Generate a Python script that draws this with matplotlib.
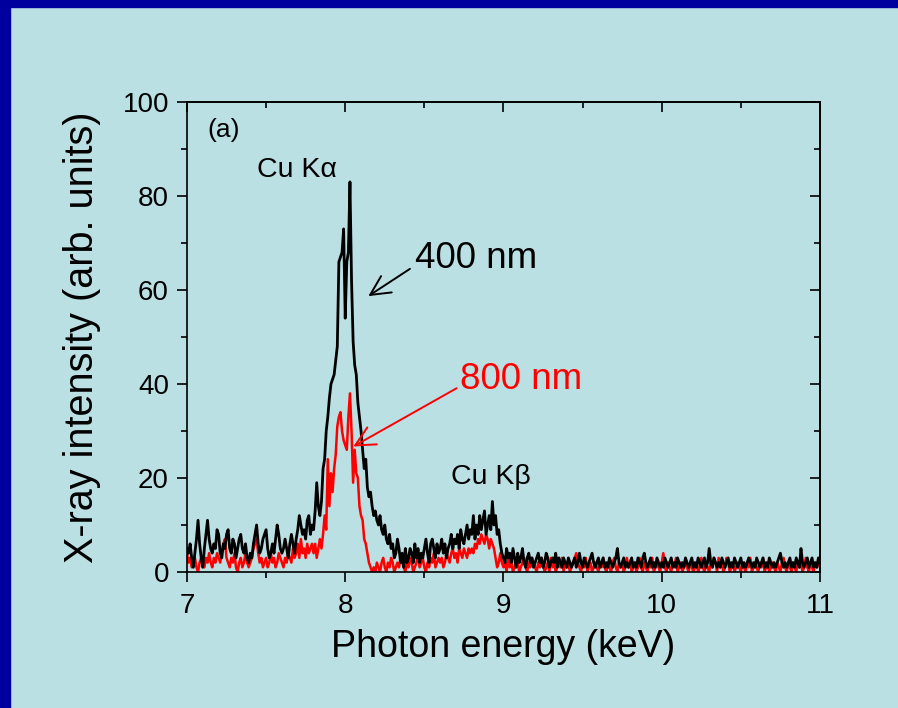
import numpy as np
import matplotlib
matplotlib.use("Agg")
import matplotlib.pyplot as plt
from matplotlib.patches import Rectangle

plt.rcParams['font.family'] = ['Liberation Sans', 'DejaVu Sans']

# spectra, channels every 0.01 keV starting at 7.00 keV
black_400nm = [
    5, 4, 6, 3, 1, 4, 7, 11, 6, 3, 1, 5, 8, 11, 7, 5, 4, 6, 5, 9,      # 7.00
    8, 4, 3, 6, 5, 8, 9, 5, 4, 7, 6, 3, 5, 7, 8, 5, 4, 6, 3, 2,        # 7.20
    4, 3, 6, 8, 10, 6, 4, 5, 7, 8, 9, 5, 3, 4, 6, 4, 7, 10, 8, 5,      # 7.40
    4, 5, 7, 5, 3, 6, 8, 6, 4, 7, 9, 12, 10, 8, 9, 7, 11, 12, 8, 10,   # 7.60
    9, 13, 19, 14, 12, 15, 22, 24, 30, 33, 37, 40, 41, 42, 45, 48, 66, 67, 68, 73,  # 7.80
    54, 66, 68, 83, 62, 49, 44, 42, 36, 33, 30, 26, 22, 24, 18, 16, 17, 14, 12, 13,  # 8.00
    11, 10, 12, 9, 8, 10, 7, 6, 8, 5, 6, 3, 4, 7, 5, 2, 4, 1, 5, 2,    # 8.20
    3, 5, 4, 2, 6, 3, 5, 2, 4, 3, 5, 7, 4, 2, 6, 7, 5, 3, 6, 4,        # 8.40
    5, 7, 4, 6, 3, 5, 6, 8, 5, 7, 6, 8, 5, 9, 7, 6, 8, 10, 7, 9,       # 8.60
    8, 12, 7, 10, 8, 12, 9, 11, 13, 8, 10, 12, 9, 15, 10, 12, 8, 9, 6, 4,  # 8.80
    3, 2, 5, 3, 4, 2, 5, 3, 1, 4, 2, 3, 5, 2, 1, 3, 4, 2, 3, 1,        # 9.00
    2, 3, 4, 2, 3, 1, 2, 4, 3, 1, 2, 3, 2, 4, 1, 3, 2, 1, 3, 2,        # 9.20
    1, 3, 2, 1, 2, 3, 1, 2, 4, 2, 1, 3, 2, 1, 2, 3, 4, 2, 1, 2,        # 9.40
    3, 1, 2, 3, 1, 2, 1, 3, 2, 1, 2, 3, 5, 2, 1, 2, 3, 1, 2, 1,        # 9.60
    2, 3, 1, 2, 1, 3, 2, 1, 3, 4, 2, 1, 2, 3, 1, 2, 1, 3, 2, 1,        # 9.80
    2, 1, 3, 2, 1, 2, 3, 1, 2, 1, 3, 2, 1, 2, 1, 3, 2, 1, 2, 3,        # 10.00
    1, 2, 1, 3, 2, 1, 2, 3, 1, 2, 5, 2, 1, 3, 2, 1, 2, 1, 3, 2,        # 10.20
    1, 2, 3, 1, 2, 1, 3, 2, 1, 2, 3, 1, 2, 1, 2, 3, 2, 1, 2, 1,        # 10.40
    3, 2, 1, 2, 3, 1, 2, 1, 3, 2, 1, 2, 1, 2, 3, 4, 2, 1, 2, 1,        # 10.60
    2, 3, 1, 2, 1, 3, 2, 1, 5, 2, 1, 2, 3, 1, 2, 3, 1, 2, 1, 3,        # 10.80
    2]

red_800nm = [
    4, 2, 3, 1, 2, 3, 1, 0, 2, 3, 2, 1, 3, 2, 4, 2, 1, 3, 2, 4,        # 7.00
    3, 2, 4, 6, 7, 3, 2, 1, 3, 2, 4, 1, 0, 2, 3, 1, 2, 4, 2, 1,        # 7.20
    2, 3, 5, 6, 7, 4, 2, 3, 1, 2, 3, 1, 2, 4, 2, 3, 1, 2, 4, 3,        # 7.40
    2, 1, 3, 2, 4, 3, 2, 5, 3, 4, 6, 3, 7, 4, 5, 3, 6, 4, 5, 6,        # 7.60
    4, 6, 3, 5, 7, 5, 8, 12, 9, 24, 14, 21, 17, 22, 25, 31, 33, 34, 30, 28,  # 7.80
    27, 26, 33, 38, 30, 19, 26, 21, 20, 14, 12, 11, 7, 6, 4, 2, 1, 0, 1, 0,  # 8.00
    2, 1, 0, 2, 3, 1, 0, 2, 1, 3, 2, 0, 1, 2, 1, 3, 2, 1, 0, 2,        # 8.20
    1, 3, 2, 0, 1, 2, 4, 1, 2, 3, 1, 0, 2, 1, 3, 2, 4, 1, 2, 3,        # 8.40
    2, 3, 1, 2, 4, 3, 2, 4, 5, 3, 4, 2, 5, 4, 3, 5, 4, 3, 5, 4,        # 8.60
    5, 4, 6, 5, 7, 6, 8, 7, 6, 8, 7, 5, 7, 6, 5, 3, 1, 2, 4, 2,        # 8.80
    1, 2, 0, 3, 1, 2, 0, 1, 3, 2, 0, 1, 2, 3, 1, 0, 2, 1, 3, 2,        # 9.00
    1, 0, 2, 1, 3, 2, 0, 1, 2, 0, 3, 1, 2, 0, 1, 2, 1, 3, 0, 2,        # 9.20
    1, 2, 0, 1, 2, 3, 4, 2, 1, 0, 2, 1, 3, 0, 1, 2, 0, 1, 2, 1,        # 9.40
    0, 2, 1, 3, 1, 0, 2, 1, 0, 2, 3, 1, 0, 2, 1, 2, 0, 1, 3, 1,        # 9.60
    2, 0, 1, 2, 0, 1, 3, 1, 0, 2, 1, 0, 2, 1, 3, 0, 1, 2, 1, 0,        # 9.80
    2, 4, 1, 0, 2, 1, 0, 2, 1, 3, 0, 1, 2, 0, 1, 2, 1, 0, 2, 1,        # 10.00
    0, 1, 2, 0, 1, 3, 1, 0, 2, 1, 0, 2, 1, 3, 2, 0, 3, 1, 2, 0,        # 10.20
    1, 3, 2, 0, 1, 2, 0, 1, 2, 1, 0, 2, 1, 0, 2, 1, 3, 0, 1, 2,        # 10.40
    1, 0, 2, 1, 3, 0, 1, 2, 0, 1, 2, 1, 0, 2, 1, 0, 2, 3, 1, 0,        # 10.60
    2, 1, 0, 2, 1, 0, 2, 1, 2, 0, 1, 3, 1, 0, 2, 1, 0, 2, 1, 2,        # 10.80
    1]

e_start = 7.0
e_step = 0.01
xticks = [7, 8, 9, 10, 11]
yticks = [0, 20, 40, 60, 80, 100]

bg = '#bae0e4'
frame_blue = '#00009e'

fig = plt.figure(figsize=(8.98, 7.08), dpi=100, facecolor=bg)
ax = fig.add_axes([0.2082, 0.1921, 0.7049, 0.6638])
ax.set_facecolor(bg)

# dark blue frame on left and top edge
fig.patches.append(Rectangle((0, 0), 10 / 898, 1, transform=fig.transFigure,
                             color=frame_blue, zorder=0))
fig.patches.append(Rectangle((0, 1 - 7 / 708), 1, 7 / 708, transform=fig.transFigure,
                             color=frame_blue, zorder=0))

e_red = e_start + e_step * np.arange(len(red_800nm))
e_black = e_start + e_step * np.arange(len(black_400nm))
ax.plot(e_red, red_800nm, color='#ff0000', lw=1.8, zorder=2)
ax.plot(e_black, black_400nm, color='black', lw=2.0, zorder=3)

ax.set_xlim(7, 11)
ax.set_ylim(0, 100)
ax.set_xticks(xticks)
ax.set_yticks(yticks)
ax.set_xticks(np.arange(7.5, 11, 1.0), minor=True)
ax.set_yticks(np.arange(10, 100, 20), minor=True)

for sp in ax.spines.values():
    sp.set_linewidth(1.2)

ax.tick_params(axis='both', which='major', direction='out', length=7, width=1.2,
               labelsize=20, pad=6)
ax.tick_params(axis='both', which='minor', direction='out', length=4, width=1.2)
ax.tick_params(axis='x', which='major', pad=8)

# mirrored ticks on top and right, pointing in
ax2 = ax.secondary_xaxis('top')
ax2.set_xticks(xticks)
ax2.set_xticks(np.arange(7.5, 11, 1.0), minor=True)
ax2.tick_params(which='major', direction='in', length=7, width=1.2, labeltop=False)
ax2.tick_params(which='minor', direction='in', length=4, width=1.2)
ax2.spines['top'].set_linewidth(1.2)
ay2 = ax.secondary_yaxis('right')
ay2.set_yticks(yticks)
ay2.set_yticks(np.arange(10, 100, 20), minor=True)
ay2.tick_params(which='major', direction='in', length=7, width=1.2, labelright=False)
ay2.tick_params(which='minor', direction='in', length=4, width=1.2)
ay2.spines['right'].set_linewidth(1.2)

ax.set_xlabel('Photon energy (keV)', fontsize=27, va='center')
ax.xaxis.set_label_coords(0.5, -0.16)
ax.set_ylabel('X-ray intensity (arb. units)', fontsize=28.5, va='center')
ax.yaxis.set_label_coords(-0.166, 0.5)

ax.text(7.126, 94, '(a)', fontsize=19, ha='left', va='center')
ax.text(7.442, 85.5, 'Cu K\u03b1', fontsize=20.5, ha='left', va='center')
ax.text(8.666, 20.3, 'Cu K\u03b2', fontsize=20.5, ha='left', va='center')

ax.annotate('', xy=(8.146, 58.7), xytext=(8.409, 64.5),
            arrowprops=dict(arrowstyle='->,head_length=0.7,head_width=0.35',
                            color='black', lw=1.4, shrinkA=0, shrinkB=0,
                            mutation_scale=20))
ax.text(8.441, 66.8, '400 nm', fontsize=26.5, ha='left', va='center')

ax.annotate('', xy=(8.051, 26.7), xytext=(8.704, 39.1),
            arrowprops=dict(arrowstyle='->,head_length=0.7,head_width=0.35',
                            color='#ff0000', lw=1.4, shrinkA=0, shrinkB=0,
                            mutation_scale=20))
ax.text(8.725, 41, '800 nm', fontsize=26.5, ha='left', va='center', color='#ff0000')

fig.savefig('out.png', dpi=100, facecolor=bg)
